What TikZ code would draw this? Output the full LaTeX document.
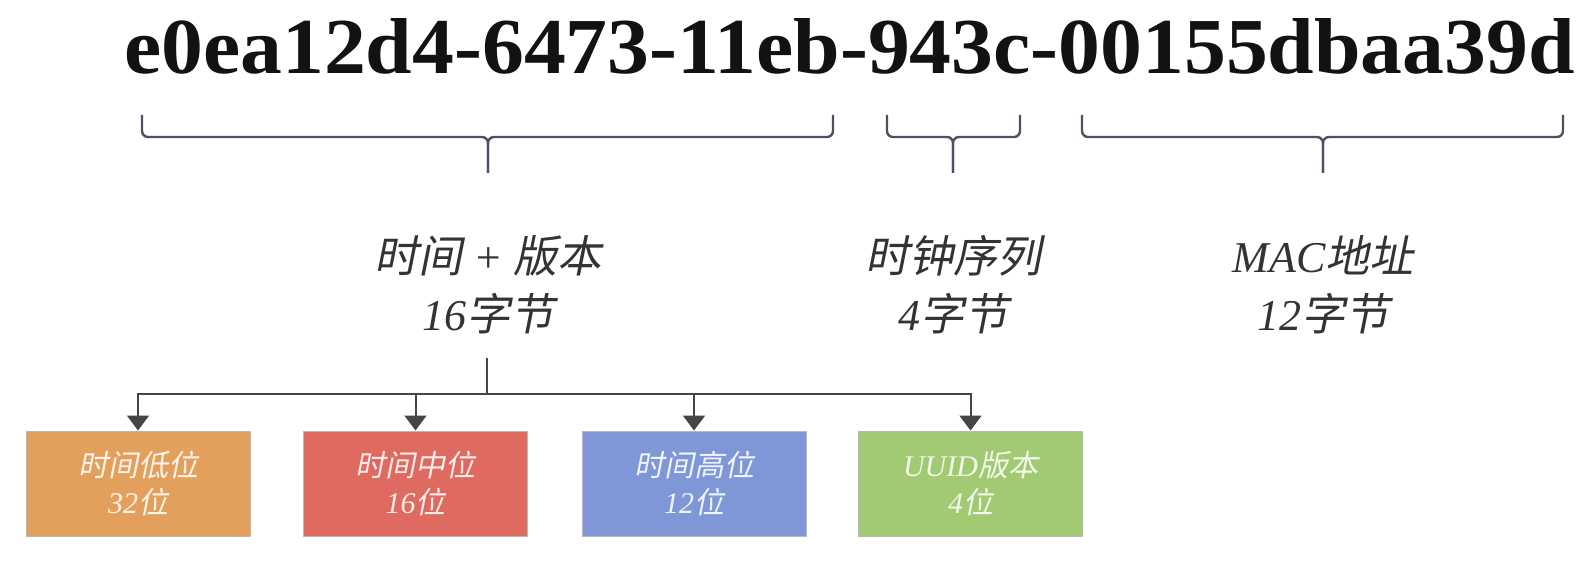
\documentclass[tikz,border=0pt]{standalone}
\usepackage{fontspec}
\setmainfont{Liberation Serif}
\newfontfamily\cjkfont[FakeSlant=0.2]{Noto Sans CJK SC}
\newcommand{\zh}[1]{{\cjkfont #1}}
\usetikzlibrary{arrows.meta}
\definecolor{bracecol}{HTML}{4B5263}
\definecolor{labelcol}{HTML}{333333}
\definecolor{conncol}{HTML}{454545}
\definecolor{orangebox}{HTML}{E3A05C}
\definecolor{redbox}{HTML}{DE6A60}
\definecolor{bluebox}{HTML}{7F97D7}
\definecolor{greenbox}{HTML}{A1CA73}
\definecolor{boxline}{HTML}{B8B8B8}
\tikzset{
  brace/.style={draw=bracecol, line width=2.4pt, rounded corners=6pt},
  fieldlabel/.style={text=labelcol, align=center, inner sep=0pt,
    font=\itshape\fontsize{44}{58}\selectfont},
  conn/.style={draw=conncol, line width=2pt},
  arr/.style={conn, -{Triangle[width=22pt,length=15pt]}},
  part/.style={draw=boxline, line width=1pt, minimum width=224pt,
    minimum height=105pt, inner sep=0pt, align=center,
    font=\itshape\fontsize{30}{37}\selectfont},
}
\begin{document}
\begin{tikzpicture}[x=1pt,y=-1pt]
\useasboundingbox (0,0) rectangle (1586,564);
\fill[white] (0,0) rectangle (1586,564);
% title
\node[anchor=base west, inner sep=0pt, text=black!93] (uuid) at (124,74)
  {\resizebox{1450pt}{55pt}{\bfseries e0ea12d4-6473-11eb-943c-00155dbaa39d}};
% brace coordinates
\coordinate (b1L) at (142,115); \coordinate (b1R) at (833,115);
\coordinate (m1) at (488,137);  \coordinate (t1) at (488,173);
\coordinate (b2L) at (887,115); \coordinate (b2R) at (1020,115);
\coordinate (m2) at (953,137);  \coordinate (t2) at (953,173);
\coordinate (b3L) at (1082,115); \coordinate (b3R) at (1563,115);
\coordinate (m3) at (1323,137); \coordinate (t3) at (1323,173);
\foreach \i in {1,2,3}{
  \draw[brace] (b\i L) |- (m\i) -- (t\i);
  \draw[brace] (b\i R) |- (m\i) -- (t\i);
}
% labels
\node[fieldlabel] (l1) at (488,285) {\zh{时间} + \zh{版本}\\16\zh{字节}};
\node[fieldlabel] (l2) at (953,285) {\zh{时钟序列}\\4\zh{字节}};
\node[fieldlabel] (l3) at (1323,285) {MAC\zh{地址}\\12\zh{字节}};
% boxes
\node[part, fill=orangebox, text=white!88!orangebox] (p1) at (138,483.5) {\zh{时间低位}\\32\zh{位}};
\node[part, fill=redbox, text=white!88!redbox] (p2) at (415.5,483.5) {\zh{时间中位}\\16\zh{位}};
\node[part, fill=bluebox, text=white!88!bluebox] (p3) at (694,483.5) {\zh{时间高位}\\12\zh{位}};
\node[part, fill=greenbox, text=white!85!greenbox] (p4) at (970.5,483.5) {UUID\zh{版本}\\4\zh{位}};
% connectors
\coordinate (s) at (487,358);
\coordinate (j) at (487,394);
\draw[conn] (s) -- (j);
\foreach \k in {1,2,3,4}{
  \draw[arr] (j) -| (p\k.north);
}
\end{tikzpicture}
\end{document}
